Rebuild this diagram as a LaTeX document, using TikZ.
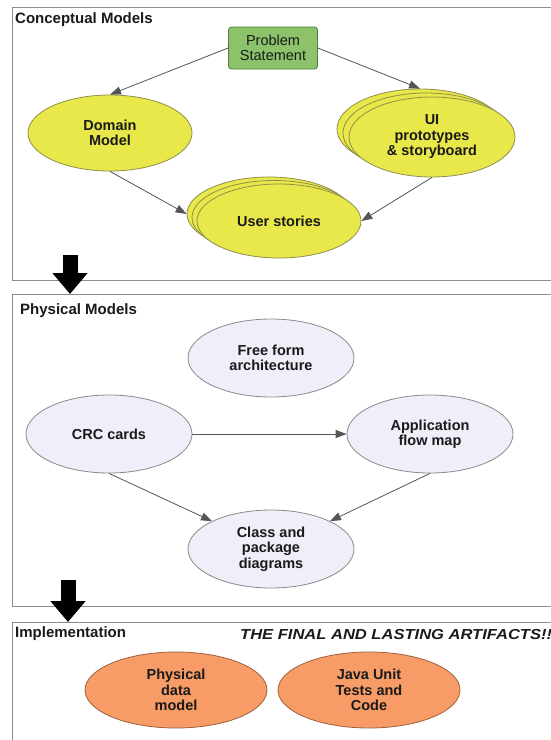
\documentclass[tikz,border=0pt]{standalone}
\usepackage{fontspec}
\setmainfont{Liberation Sans}
\usetikzlibrary{shapes.geometric,arrows.meta}
\definecolor{gfill}{HTML}{8CC36A}
\definecolor{gline}{HTML}{4F7F3A}
\definecolor{yfill}{HTML}{E8E84A}
\definecolor{yline}{HTML}{8F8F4A}
\definecolor{lfill}{HTML}{EFEFFA}
\definecolor{lline}{HTML}{8A8A8A}
\definecolor{ofill}{HTML}{F79C66}
\definecolor{oline}{HTML}{A0603A}
\definecolor{pline}{HTML}{8C8C8C}
\definecolor{txt}{HTML}{1A1A1A}
\definecolor{conn}{HTML}{555555}
\begin{document}
\begin{tikzpicture}[x=1pt,y=-1pt,
  panel/.style={draw=pline, line width=1.4pt, fill=white, anchor=north west, inner sep=0pt},
  ptitle/.style={anchor=west, inner sep=0pt, text=txt, font=\bfseries\fontsize{15}{16}\selectfont},
  nodetext/.style={align=center, text=txt, inner sep=0pt, font=\bfseries\fontsize{14.5}{15.5}\selectfont},
  yel/.style={ellipse, draw=yline, fill=yfill, line width=0.8pt, nodetext},
  lav/.style={ellipse, draw=lline, fill=lfill, line width=0.8pt, nodetext, minimum width=166pt, minimum height=78pt},
  ora/.style={ellipse, draw=oline, fill=ofill, line width=0.8pt, nodetext, minimum width=182pt, minimum height=76pt},
  link/.style={draw=conn, line width=0.8pt, -{Triangle[length=11pt,width=8pt]}},
  bigarrow/.style={draw=black, line width=15pt, -{Triangle[length=21pt,width=34pt]}, shorten >=0pt}
]
\clip (0,0) rectangle (551,740);
\fill[white] (0,0) rectangle (551,740);

% panels
\node[panel, minimum width=570pt, minimum height=273pt] (p1) at (12,7) {};
\node[panel, minimum width=570pt, minimum height=312pt] (p2) at (12,294) {};
\node[panel, minimum width=570pt, minimum height=140pt] (p3) at (12,622) {};

% titles
\node[ptitle] (t1) at (15,20) {Conceptual Models};
\node[ptitle] (t2) at (20,311) {Physical Models};
\node[ptitle] (t3) at (15,634) {Implementation};
\node[ptitle, font=\bfseries\itshape\fontsize{14.5}{16}\selectfont] (t4) at (240,634) {\scalebox{1.14}[1]{THE FINAL AND LASTING ARTIFACTS!!}};

% big arrows between panels
\coordinate (a1) at (70,255);
\coordinate (a2) at (68,580);
\draw[bigarrow] (a1) -- (a1 |- p2.north);
\draw[bigarrow] (a2) -- (a2 |- p3.north);

% conceptual models
\node[draw=gline, fill=gfill, line width=0.8pt, rounded corners=3pt, minimum width=89pt, minimum height=42pt, align=center, inner sep=0pt, text=txt, font=\fontsize{14.5}{15.5}\selectfont] (ps) at (273,48) {Problem\\Statement};

\node[yel, minimum width=164pt, minimum height=76pt] (dm) at (110,133) {Domain\\Model};

\node[yel, minimum width=166pt, minimum height=80pt] (ui3) at (420,129) {};
\node[yel, minimum width=166pt, minimum height=80pt] (ui2) at (426,133) {};
\node[yel, minimum width=166pt, minimum height=80pt] (ui) at (432,137) {UI\\prototypes\\\& storyboard};

\node[yel, minimum width=164pt, minimum height=74pt] (us3) at (269,214) {};
\node[yel, minimum width=164pt, minimum height=74pt] (us2) at (274,217.5) {};
\node[yel, minimum width=164pt, minimum height=74pt] (us) at (279,221) {User stories};

\draw[link] (ps.west) -- (dm.north);
\draw[link] (ps.east) -- (ui3.north);
\draw[link] (dm.south) -- (us3.west);
\draw[link] (ui.south) -- (us.east);

% physical models
\node[lav] (ff) at (271,358) {Free form\\architecture};
\node[lav] (crc) at (109,434) {CRC cards};
\node[lav] (afm) at (430,434) {Application\\flow map};
\node[lav] (cls) at (271,549) {Class and\\package\\diagrams};

\draw[link] (crc.east) -- (afm.west);
\draw[link] (crc.south) -- (cls.north west);
\draw[link] (afm.south) -- (cls.north east);

% implementation
\node[ora] (pdm) at (176,690) {Physical\\data\\model};
\node[ora] (jut) at (369,690) {Java Unit\\Tests and\\Code};
\end{tikzpicture}
\end{document}
